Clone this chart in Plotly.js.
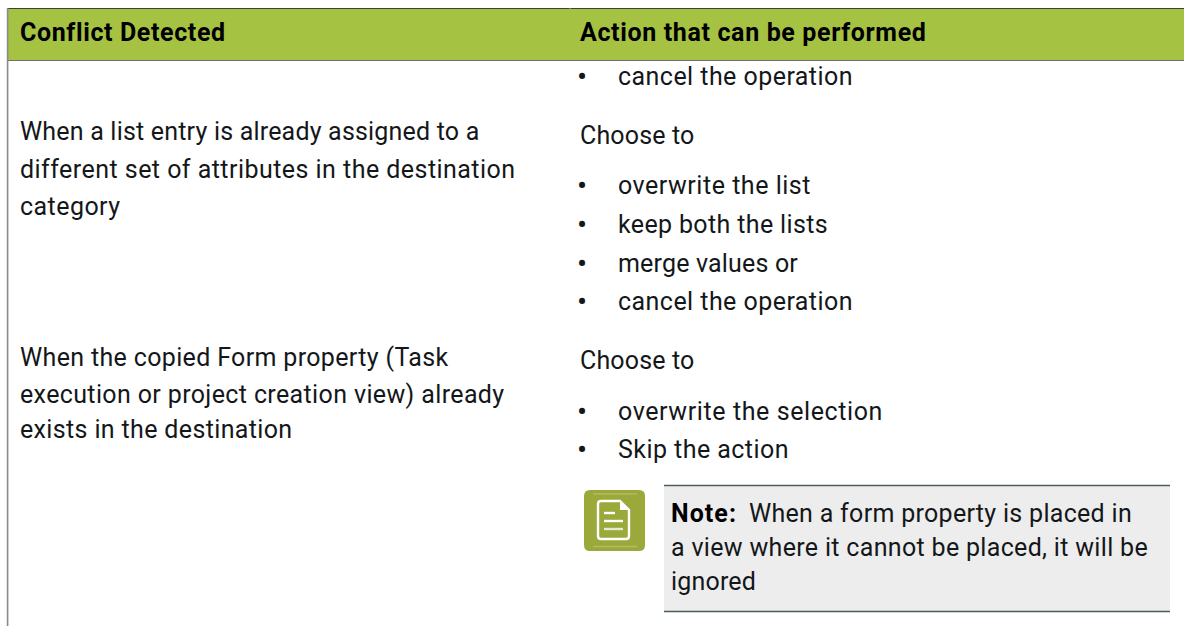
<!DOCTYPE html>
<html><head><meta charset="utf-8">
<script src="https://cdn.plot.ly/plotly-3.0.1.min.js"></script>
<style>html,body{margin:0;padding:0;background:#fff;overflow:hidden}#c{width:1184px;height:626px}</style>
</head><body><div id="c"></div><script>
const headers = ["Conflict Detected", "Action that can be performed"];
const conflictLines = [
  "When a list entry is already assigned to a",
  "different set of attributes in the destination",
  "category",
  "When the copied Form property (Task",
  "execution or project creation view) already",
  "exists in the destination"
];
const chooseLines = ["Choose to", "Choose to"];
const bulletLines = [
  "cancel the operation", "overwrite the list", "keep both the lists", "merge values or",
  "cancel the operation", "overwrite the selection", "Skip the action"
];
const noteLabel = "Note:";
const noteLines = ["When a form property is placed in", "a view where it cannot be placed, it will be", "ignored"];

const conflictY = [131, 169, 206, 357, 394, 429];
const chooseY = [135, 360];
const bulletY = [76, 185, 224, 263, 301, 411, 449];
const noteY = [513, 547, 581];
/* right-hand end of each line as measured on the reference */
const headerEnds = [224, 925];
const conflictEnds = [478, 514, 119, 447, 503, 291];
const chooseEnds = [693, 693];
const bulletEnds = [852, 810, 827, 797, 852, 882, 788];
const noteEnds = [1131, 1147, 755];
const noteLabelEnd = 736;

const GREEN = "#a6c243", INK = "#14171a", SIZE = 25, FAMILY = "Roboto, sans-serif";
const fits = [];
function note(text, x, y, end, opts) {
  if (end) fits.push({start:x, end:end});
  return Object.assign({text, x, y, xref:"x", yref:"y", xanchor:"left", yanchor:"middle",
    showarrow:false, align:"left", borderpad:0,
    font:{family:FAMILY, size:SIZE, color:INK}}, opts||{});
}
const boldFont = {font:{family:FAMILY, size:SIZE, color:"#000"}};
const anns = [];
anns.push(note("<b>"+headers[0]+"</b>", 18.5, 32, headerEnds[0], boldFont));
anns.push(note("<b>"+headers[1]+"</b>", 578.5, 32, headerEnds[1], boldFont));
conflictLines.forEach((t,i)=>anns.push(note(t, 18.5, conflictY[i], conflictEnds[i])));
chooseLines.forEach((t,i)=>anns.push(note(t, 578.5, chooseY[i], chooseEnds[i])));
bulletLines.forEach((t,i)=>{
  anns.push(note(t, 617, bulletY[i], bulletEnds[i]));
  anns.push(note("•", 582, bulletY[i], 0, {xanchor:"center", font:{family:FAMILY, size:30, color:INK}}));
});
anns.push(note("<b>"+noteLabel+"</b>", 670, noteY[0], noteLabelEnd, boldFont));
anns.push(note(noteLines[0], 748, noteY[0], noteEnds[0]));
anns.push(note(noteLines[1], 670, noteY[1], noteEnds[1]));
anns.push(note(noteLines[2], 670, noteY[2], noteEnds[2]));

function rect(x0,y0,x1,y1,fill){return {type:"rect",xref:"x",yref:"y",x0,y0,x1,y1,fillcolor:fill,line:{width:0},layer:"below"};}
function seg(x0,y0,x1,y1,color,w,layer){return {type:"line",xref:"x",yref:"y",x0,y0,x1,y1,line:{color,width:w},layer:layer||"below"};}
function path(d,o){return Object.assign({type:"path",xref:"x",yref:"y",path:d,layer:"above"},o);}
const shapes = [
  rect(8,9,1184,60,GREEN),
  seg(7,8.5,1184,8.5,"#3c3f3c",1.2),
  seg(7,60.5,1184,60.5,"#6f736c",1.2),
  seg(569.5,8,570.5,8,"#ffffff",1),
  seg(7.6,8,7.6,626,"#8a8a8a",1.6),
  rect(664,486,1170,612,"#ededed"),
  seg(664,485.5,1170,485.5,"#4a5f5c",1.3),
  seg(664,611.5,1170,611.5,"#4a5f5c",1.3),
  path("M 590 490 L 639 490 Q 645 490 645 496 L 645 545 Q 645 551 639 551 L 590 551 Q 584 551 584 545 L 584 496 Q 584 490 590 490 Z",{fillcolor:"#9aa93a",line:{width:0}}),
  seg(593,494,637,494,"#b0bd62",1.5,"above"),
  seg(593,546.5,637,546.5,"#b0bd62",1.5,"above"),
  path("M 601 501 L 620 501 L 629 510 L 629 536 Q 629 539 626 539 L 601 539 Q 598 539 598 536 L 598 504 Q 598 501 601 501 Z",{fillcolor:"#9aa93a",line:{color:"#ffffff",width:2.4}}),
  path("M 620 501 L 620 510 L 629 510 Z",{fillcolor:"#ffffff",line:{width:0}}),
  seg(604,513,615,513,"#ffffff",2.4,"above"),
  seg(604,521,623,521,"#ffffff",2.4,"above"),
  seg(604,529,623,529,"#e6ead0",2.4,"above")
];
const layout = {
  width:1184, height:626, margin:{l:0,r:0,t:0,b:0}, showlegend:false,
  paper_bgcolor:"#fff", plot_bgcolor:"#fff",
  xaxis:{range:[0,1184],visible:false,fixedrange:true},
  yaxis:{range:[626,0],visible:false,fixedrange:true},
  annotations:anns, shapes:shapes
};
Plotly.newPlot("c",[{x:[],y:[],type:"scatter",hoverinfo:"skip"}],layout,{displayModeBar:false,staticPlot:true}).then(()=>{
  /* stretch each line's tracking so it ends where the reference line ends */
  const els = document.querySelectorAll("#c .annotation-text");
  let k = 0;
  anns.forEach((a,i)=>{
    const t = els[i]; if (!t) return;
    if (a.text === "•") return;
    const f = fits[k++];
    const n = t.textContent.length;
    const spacing = (f.end - f.start - t.getComputedTextLength()) / n;
    t.style.letterSpacing = spacing.toFixed(3) + "px";
  });
});
</script></body></html>
